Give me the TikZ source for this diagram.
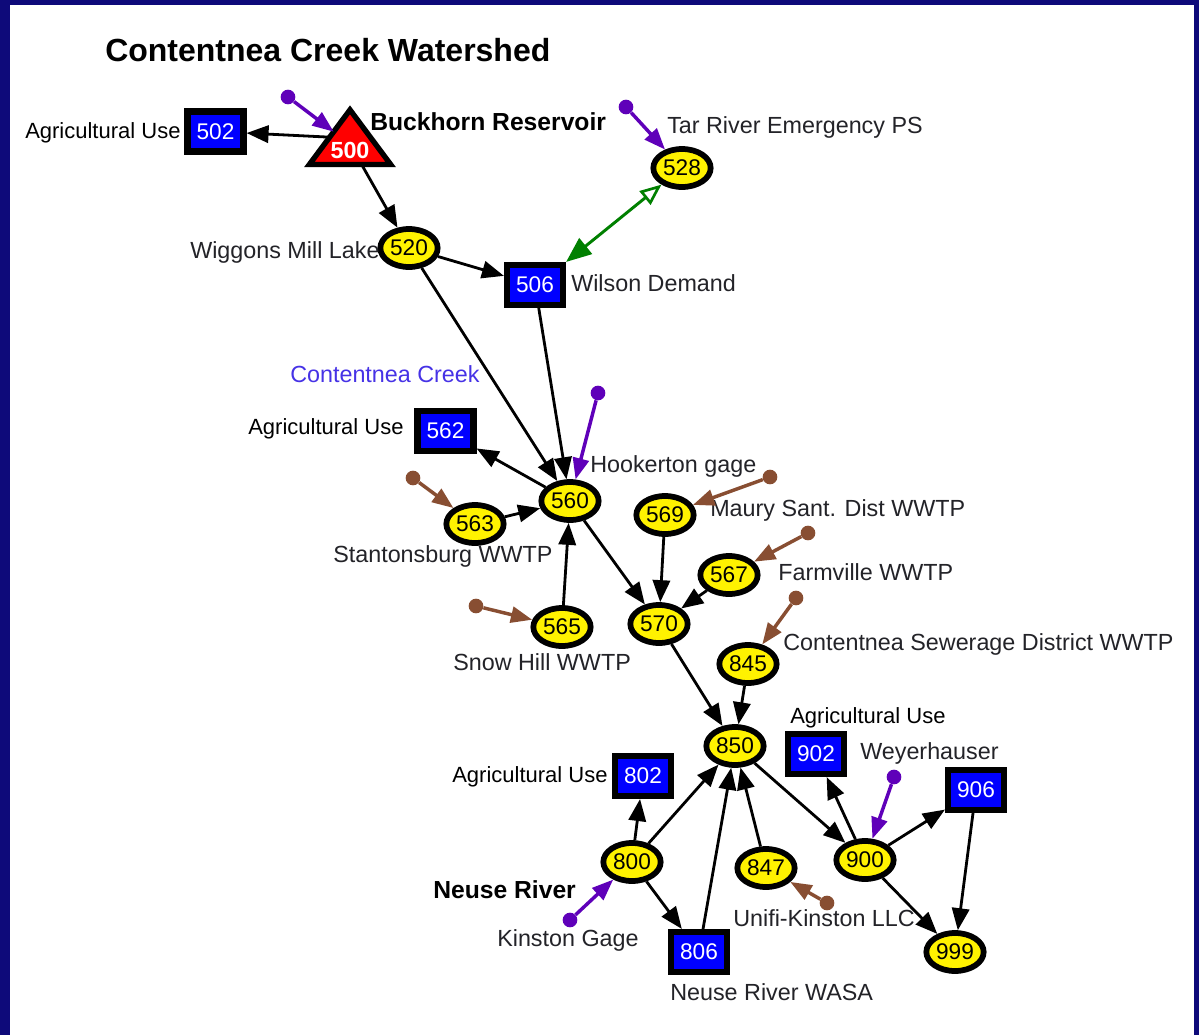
\documentclass[tikz,border=0pt]{standalone}
\usepackage{fontspec}
\setmainfont{Liberation Sans}
\usetikzlibrary{arrows.meta,shapes.geometric}
\definecolor{navy}{RGB}{14,10,122}
\definecolor{srcpurple}{RGB}{95,0,185}
\definecolor{srcbrown}{RGB}{136,78,50}
\definecolor{flowgreen}{RGB}{0,128,0}
\definecolor{creekblue}{RGB}{70,50,230}
\definecolor{lbl}{RGB}{35,35,40}
\begin{document}
\begin{tikzpicture}[x=0.75pt,y=-0.75pt,
  junc/.style={ellipse, draw=black, line width=4.3pt, fill=yellow, minimum width=43pt, minimum height=28.5pt, inner sep=0pt, font=\fontsize{17}{17}\selectfont},
  dem/.style={rectangle, draw=black, line width=4.6pt, fill=blue, minimum width=42pt, minimum height=30pt, inner sep=0pt, text=white, font=\fontsize{17}{17}\selectfont},
  lab/.style={anchor=west, inner sep=0pt, text=lbl, font=\fontsize{17.5}{17.5}\selectfont},
  aglab/.style={anchor=west, inner sep=0pt, text=black, font=\fontsize{16.5}{16.5}\selectfont},
  boldlab/.style={anchor=west, inner sep=0pt, text=black, font=\bfseries\fontsize{18.5}{18.5}\selectfont},
  flow/.style={draw=black, line width=2.1pt, -{Triangle[length=16.5pt,width=13pt]}},
  srcdot/.style={circle, inner sep=0pt, minimum size=11pt},
  srcarr/.style={line width=2.6pt, -{Triangle[length=16pt,width=12pt]}},
  greenarr/.style={draw=flowgreen, line width=2.2pt, {Triangle[open,length=16pt,width=13pt,line width=2pt]}-{Triangle[length=19pt,width=15pt]}},
]
\useasboundingbox (0,0) rectangle (1199,1035);
\fill[navy] (0,0) rectangle (1199,1035);
\fill[white] (10,5) rectangle (1194,1035);

% title
\node[anchor=west, inner sep=0pt, font=\bfseries\fontsize{24}{24}\selectfont] (title) at (105,50) {Contentnea Creek Watershed};

% reservoir
\node[isosceles triangle, isosceles triangle apex angle=75, isosceles triangle stretches, shape border rotate=90, minimum width=61pt, minimum height=41pt, draw=black, line width=4pt, fill=red, inner sep=0pt, outer sep=0pt, anchor=lower side] (n500) at (350,164.5) {};
\node[text=white, font=\bfseries\fontsize{17.5}{17.5}\selectfont, inner sep=0pt] (t500) at (350,150) {500};

% demand boxes
\node[dem] (n502) at (215.5,131.5) {502};
\node[dem] (n506) at (535,285) {506};
\node[dem] (n562) at (445.5,431) {562};
\node[dem] (n802) at (643,776) {802};
\node[dem] (n806) at (699,952) {806};
\node[dem] (n902) at (816,754) {902};
\node[dem] (n906) at (976,790) {906};

% junctions
\node[junc] (n520) at (409,248) {520};
\node[junc] (n528) at (682,168) {528};
\node[junc] (n560) at (570,501) {560};
\node[junc] (n563) at (475,524) {563};
\node[junc] (n565) at (562,627) {565};
\node[junc] (n569) at (665,515) {569};
\node[junc] (n567) at (729,575) {567};
\node[junc] (n570) at (659,624) {570};
\node[junc] (n845) at (748,664) {845};
\node[junc] (n850) at (735,746) {850};
\node[junc] (n800) at (632,862) {800};
\node[junc] (n847) at (766,868) {847};
\node[junc] (n900) at (865,860) {900};
\node[junc] (n999) at (955,952) {999};

% labels
\node[aglab] (l502) at (25,133) {Agricultural Use};
\node[boldlab] (l500) at (370,122) {Buckhorn Reservoir};
\node[lab] (l520) at (190,252) {Wiggons Mill Lake};
\node[lab] (l506) at (571,283) {Wilson Demand};
\node[lab] (l528) at (667,127) {Tar River Emergency PS};
\node[lab, text=creekblue] (lcreek) at (290,374) {Contentnea Creek};
\node[aglab] (l562) at (248,429) {Agricultural Use};
\node[lab] (l560) at (590,466) {Hookerton gage};
\node[lab] (l563) at (333,556) {Stantonsburg WWTP};
\node[lab] (l565) at (453,662) {Snow Hill WWTP};
\node[lab] (l569) at (710,510) {Maury Sant. Dist WWTP};
\node[lab] (l567) at (778,572) {Farmville WWTP};
\node[lab] (l845) at (783,644) {Contentnea Sewerage District WWTP};
\node[aglab] (l902) at (790,718) {Agricultural Use};
\node[lab] (l900) at (860,753) {Weyerhauser};
\node[aglab] (l802) at (452,777) {Agricultural Use};
\node[boldlab] (lneuse) at (433,890) {Neuse River};
\node[lab] (l800) at (497,940) {Kinston Gage};
\node[lab] (l847) at (733,918) {Unifi-Kinston LLC};
\node[lab] (l806) at (670,992) {Neuse River WASA};

% flows
\draw[flow] (n500.left side) -- (n502);
\draw[flow] (n500) -- (n520);
\draw[flow] (n520) -- (n506);
\draw[flow] (n520) -- (n560);
\draw[flow] (n506) -- (n560);
\draw[greenarr] (n528) -- (n506.north east);
\draw[flow] (n560) -- (n562);
\draw[flow] (n563) -- (n560);
\draw[flow] (n565) -- (n560);
\draw[flow] (n560) -- (n570);
\draw[flow] (n569) -- (n570);
\draw[flow] (n567) -- (n570);
\draw[flow] (n570) -- (n850);
\draw[flow] (n845) -- (n850);
\draw[flow] (n800) -- (n802);
\draw[flow] (n800) -- (n850);
\draw[flow] (n800) -- (n806);
\draw[flow] (n806) -- (n850);
\draw[flow] (n847) -- (n850);
\draw[flow] (n850) -- (n900);
\draw[flow] (n900) -- (n902);
\draw[flow] (n900) -- (n906);
\draw[flow] (n900) -- (n999);
\draw[flow] (n906) -- (n999);

% sources
\node[srcdot, fill=srcpurple] (s500) at (288,97) {};
\node[srcdot, fill=srcpurple] (s528) at (626,107) {};
\node[srcdot, fill=srcpurple] (s560) at (598,393) {};
\node[srcdot, fill=srcbrown] (s563) at (413,478) {};
\node[srcdot, fill=srcbrown] (s565) at (476,606) {};
\node[srcdot, fill=srcbrown] (s569) at (770,477) {};
\node[srcdot, fill=srcbrown] (s567) at (808,533) {};
\node[srcdot, fill=srcbrown] (s845) at (796,598) {};
\node[srcdot, fill=srcpurple] (s900) at (894,777) {};
\node[srcdot, fill=srcbrown] (s847) at (827,903) {};
\node[srcdot, fill=srcpurple] (s800) at (570,920) {};

\draw[srcarr, srcpurple] (s500) -- (n500);
\draw[srcarr, srcpurple] (s528) -- (n528);
\draw[srcarr, srcpurple] (s560) -- (n560);
\draw[srcarr, srcbrown] (s563) -- (n563);
\draw[srcarr, srcbrown] (s565) -- (n565);
\draw[srcarr, srcbrown] (s569) -- (n569);
\draw[srcarr, srcbrown] (s567) -- (n567);
\draw[srcarr, srcbrown] (s845) -- (n845);
\draw[srcarr, srcpurple] (s900) -- (n900);
\draw[srcarr, srcbrown] (s847) -- (n847);
\draw[srcarr, srcpurple] (s800) -- (n800);
\end{tikzpicture}
\end{document}
